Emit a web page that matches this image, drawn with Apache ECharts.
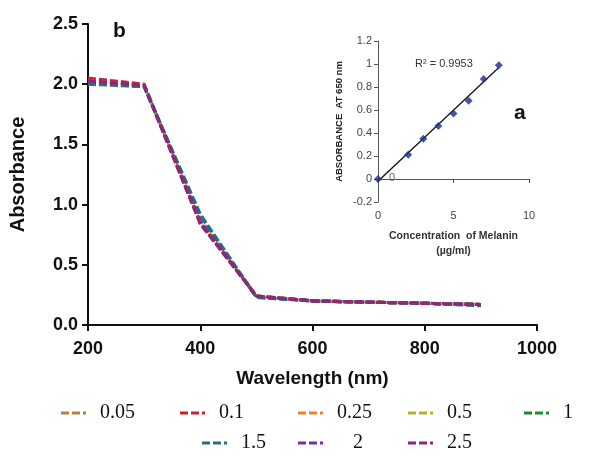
<!DOCTYPE html>
<html><head><meta charset="utf-8">
<script src="https://cdn.jsdelivr.net/npm/echarts@6/dist/echarts.min.js"></script>
<style>html,body{margin:0;padding:0;background:#fff}#c{width:590px;height:459px}</style>
</head><body><div id="c"></div>
<script>
// Main chart data (b)
const wavelengths = [200, 300, 400, 500, 600, 700, 800, 900];
const seriesNames = ['0.05', '0.1', '0.25', '0.5', '1', '1.5', '2', '2.5'];
const abs_0_05 = [2.02, 1.99, 0.88, 0.24, 0.20, 0.19, 0.18, 0.17];
const abs_0_1  = [2.05, 2.00, 0.85, 0.24, 0.20, 0.19, 0.18, 0.17];
const abs_0_25 = [2.03, 1.99, 0.87, 0.24, 0.20, 0.19, 0.18, 0.17];
const abs_0_5  = [2.01, 1.99, 0.88, 0.24, 0.20, 0.19, 0.18, 0.17];
const abs_1    = [2.00, 1.98, 0.92, 0.23, 0.20, 0.19, 0.18, 0.17];
const abs_1_5  = [2.01, 1.98, 0.91, 0.23, 0.20, 0.19, 0.18, 0.16];
const abs_2    = [2.02, 1.99, 0.86, 0.24, 0.20, 0.19, 0.18, 0.17];
const abs_2_5  = [2.03, 1.99, 0.84, 0.24, 0.20, 0.19, 0.18, 0.17];
const xTicks = [200, 400, 600, 800, 1000];
const yTicks = [0.0, 0.5, 1.0, 1.5, 2.0, 2.5];

// Inset data (a)
const concentration = [0, 2, 3, 4, 5, 6, 7, 8];
const abs650 = [0, 0.21, 0.35, 0.46, 0.57, 0.68, 0.87, 0.99];
const trendX = [0, 8];
const trendY = [-0.02, 0.97];

const allAbs = [abs_0_05, abs_0_1, abs_0_25, abs_0_5, abs_1, abs_1_5, abs_2, abs_2_5];
const colors = ['#b5813f', '#cf1f2e', '#e4852a', '#b4b42a', '#1f8a30', '#226f8a', '#7a2fa6', '#8c2877'];
const legendPos = [
  [56, 398], [175, 398], [293, 398], [403, 398], [519, 398],
  [197, 428], [293, 428], [403, 428]
];
const legendPad = [14, 14, 14, 14, 14, 14, 30, 14];

const chart = echarts.init(document.getElementById('c'), null, {renderer: 'canvas'});

const lineSeries = seriesNames.map((n, i) => ({
  name: n, type: 'line', xAxisIndex: 0, yAxisIndex: 0,
  data: wavelengths.map((w, j) => [w, allAbs[i][j]]),
  symbol: 'none', showSymbol: false,
  lineStyle: {color: colors[i], width: 3.2, type: [8, 3]},
  itemStyle: {color: colors[i]},
  z: 2 + i, animation: false
}));

const legends = seriesNames.map((n, i) => ({
  data: [n], left: legendPos[i][0], top: legendPos[i][1],
  icon: 'path://M0,0h8v3h-8z M11,0h8v3h-8z M22,0h3v3h-3z',
  itemWidth: 25, itemHeight: 3, itemGap: 0,
  textStyle: {fontFamily: 'Liberation Serif', fontSize: 20, color: '#111', padding: [0, 0, 0, legendPad[i] - 5]},
  selectedMode: false
}));

const option = {
  backgroundColor: '#fff',
  animation: false,
  legend: legends,
  grid: [
    {left: 83, right: 53, top: 24, bottom: 134, containLabel: false},
    {left: 378, width: 151, top: 41, height: 161, containLabel: false}
  ],
  xAxis: [
    {
      type: 'value', gridIndex: 0, min: 200, max: 1000, interval: 200,
      name: 'Wavelength (nm)', nameLocation: 'middle', nameGap: 44,
      nameTextStyle: {fontFamily: 'Liberation Sans', fontWeight: 'bold', fontSize: 19, color: '#111'},
      axisLine: {show: true, onZero: false, lineStyle: {color: '#111', width: 2}},
      axisTick: {show: true, length: 6, lineStyle: {color: '#111', width: 2}},
      axisLabel: {fontFamily: 'Liberation Sans', fontWeight: 'bold', fontSize: 18, color: '#111', margin: 15,
        formatter: v => String(v)},
      splitLine: {show: false}
    },
    {
      type: 'value', gridIndex: 1, min: 0, max: 10, interval: 5,
      name: 'Concentration  of Melanin\n(µg/ml)', nameLocation: 'middle', nameGap: 27,
      nameTextStyle: {fontFamily: 'Liberation Sans', fontWeight: 'bold', fontSize: 10.5, color: '#333', lineHeight: 15},
      axisLine: {show: true, onZero: true, lineStyle: {color: '#555', width: 1}},
      axisTick: {show: true, length: 4, lineStyle: {color: '#555'}},
      axisLabel: {fontFamily: 'Liberation Sans', fontSize: 11, color: '#444', margin: 8},
      splitLine: {show: false}
    }
  ],
  yAxis: [
    {
      type: 'value', gridIndex: 0, min: 0, max: 2.5, interval: 0.5,
      name: 'Absorbance', nameLocation: 'middle', nameGap: 60,
      nameTextStyle: {fontFamily: 'Liberation Sans', fontWeight: 'bold', fontSize: 20, color: '#111'},
      axisLine: {show: true, onZero: false, lineStyle: {color: '#111', width: 2}},
      axisTick: {show: true, length: 6, lineStyle: {color: '#111', width: 2}},
      axisLabel: {fontFamily: 'Liberation Sans', fontWeight: 'bold', fontSize: 18, color: '#111', margin: 10,
        formatter: v => v.toFixed(1)},
      splitLine: {show: false}
    },
    {
      type: 'value', gridIndex: 1, min: -0.2, max: 1.2, interval: 0.2,
      name: 'ABSORBANCE  AT 650 nm', nameLocation: 'middle', nameGap: 34,
      nameTextStyle: {fontFamily: 'Liberation Sans', fontWeight: 'bold', fontSize: 9.5, color: '#222'},
      axisLine: {show: true, onZero: false, lineStyle: {color: '#555', width: 1}},
      axisTick: {show: true, length: 4, lineStyle: {color: '#555'}},
      axisLabel: {fontFamily: 'Liberation Sans', fontSize: 11, color: '#444', margin: 6,
        formatter: v => String(Math.round(v * 10) / 10)},
      splitLine: {show: false}
    }
  ],
  graphic: [
    {type: 'text', left: 113, top: 21, style: {text: 'b', font: 'bold 21px "Liberation Sans"', fill: '#111'}},
    {type: 'text', left: 514, top: 103, style: {text: 'a', font: 'bold 21px "Liberation Sans"', fill: '#111'}},
    {type: 'text', left: 415, top: 58, style: {text: 'R² = 0.9953', font: '11px "Liberation Sans"', fill: '#333'}},
    {type: 'text', left: 389, top: 172, style: {text: '0', font: '11px "Liberation Sans"', fill: '#666'}}
  ],
  series: lineSeries.concat([
    {
      name: 'trend', type: 'line', xAxisIndex: 1, yAxisIndex: 1,
      data: trendX.map((x, i) => [x, trendY[i]]),
      symbol: 'none', lineStyle: {color: '#111', width: 1.3}, z: 20
    },
    {
      name: 'melanin', type: 'scatter', xAxisIndex: 1, yAxisIndex: 1,
      data: concentration.map((x, i) => [x, abs650[i]]),
      symbol: 'diamond', symbolSize: 8, itemStyle: {color: '#1c2a8c'}, z: 21
    }
  ])
};
chart.setOption(option);
</script></body></html>
